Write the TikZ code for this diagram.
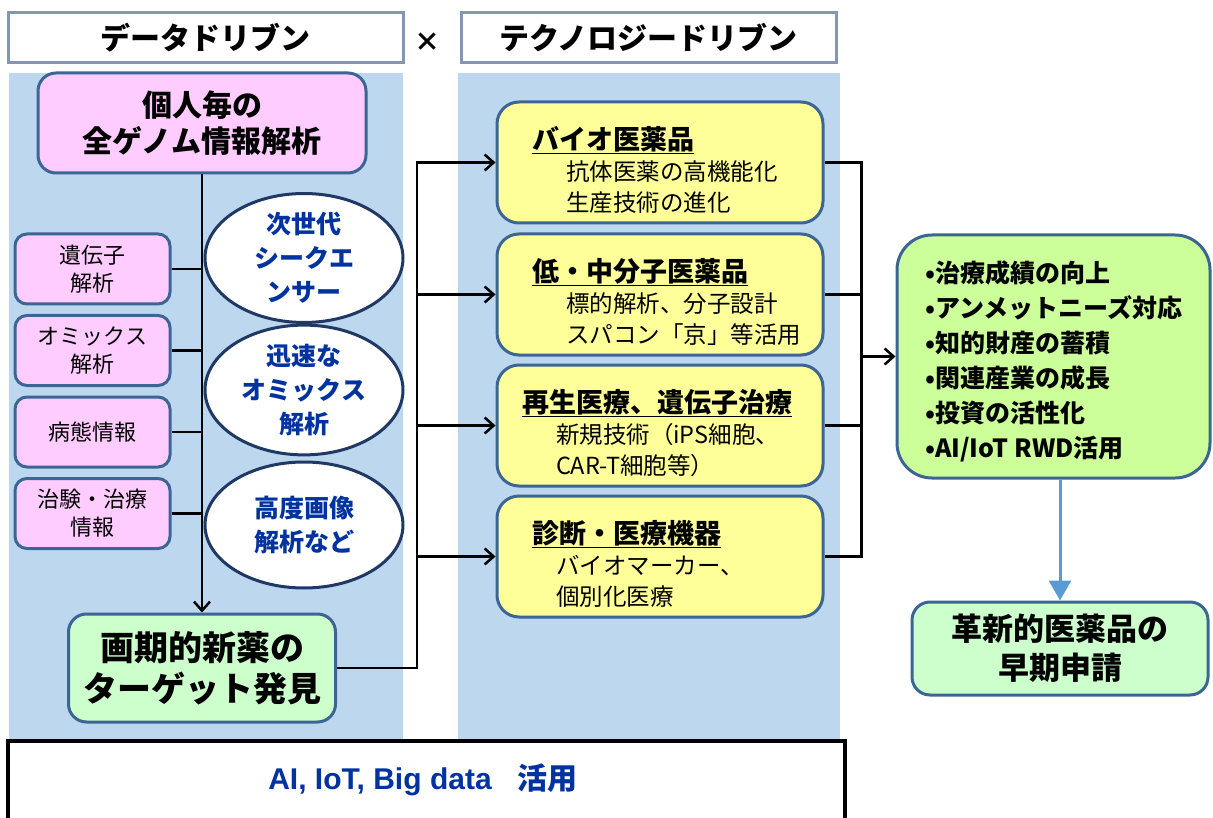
\documentclass[tikz,border=0pt]{standalone}
\usepackage{fontspec}
\setmainfont{Noto Sans CJK JP}
\newfontfamily\latfont{Liberation Sans}
\usepackage{xcolor}
\usetikzlibrary{arrows.meta, positioning, shapes.geometric}

\definecolor{panelblue}{HTML}{BDD7EE}
\definecolor{hdrline}{HTML}{8497B0}
\definecolor{boxline}{HTML}{3B6594}
\definecolor{pinkfill}{HTML}{FFCCFF}
\definecolor{yelfill}{HTML}{FFFF99}
\definecolor{grnfill}{HTML}{CCFFCC}
\definecolor{limefill}{HTML}{CCFF99}
\definecolor{navy}{HTML}{1F3864}
\definecolor{ovaltext}{HTML}{0033A0}
\definecolor{arrowblue}{HTML}{5B9BD5}

\newcommand\fsz[2]{\fontsize{#1}{#2}\selectfont}
% title line of a yellow box (underlined, pushed a bit down)
\newcommand\ytitle[2]{\rule{0pt}{38pt}\hspace*{#1}{\fsz{27}{31}\bfseries\underline{#2}}}

\begin{document}
\begin{tikzpicture} [x=1pt, y=-1pt, on grid,
	hdr/.style = {draw=hdrline, fill=white, line width=3pt, minimum height=50pt, inner sep=0pt, font=\fsz{30}{30}\bfseries},
	rbox/.style = {draw=boxline, line width=3pt, rounded corners=18pt, align=center, inner sep=0pt},
	smallbox/.style = {rbox, fill=pinkfill, rounded corners=12pt, minimum width=155pt, minimum height=70pt, font=\fsz{22}{28}},
	ellbox/.style = {ellipse, draw=navy, line width=3pt, fill=white, minimum width=198pt, minimum height=126pt, inner sep=0pt,
		align=center, text=ovaltext, font=\fsz{25}{34}\bfseries},
	ybox/.style = {rbox, fill=yelfill, rounded corners=22pt, text width=326pt, align=left, minimum height=121pt, font=\fsz{23.5}{31}},
	wire/.style = {line width=2.5pt, black},
	arr/.style = {-{Straight Barb[length=9pt, width=16pt, line width=2.5pt]}}]
	% Bounding box and background panels
	\useasboundingbox (0,0) rectangle (1213,818);
	\fill [panelblue] (9,73) rectangle (403,740);
	\fill [panelblue] (458,73) rectangle (840,740);
	% Headers
	\node (dd) [hdr, minimum width=395pt] at (205.5,38) {データドリブン};
	\node (cross) at (427,42) {\fsz{26}{26}\bfseries ×};
	\node (td) [hdr, minimum width=375pt] at (648.5,38) {テクノロジードリブン};
	% Data driven side
	\node (gen) [rbox, fill=pinkfill, minimum width=328pt, minimum height=100pt, font=\fsz{30}{36}\bfseries] at (202,123)
		{個人毎の\\全ゲノム情報解析};
	\node (an1) [smallbox] at (92.5,269) {遺伝子\\解析};
	\node (an2) [smallbox, below = 81.5pt of an1] {オミックス\\解析};
	\node (an3) [smallbox, below = 81.5pt of an2] {病態情報};
	\node (an4) [smallbox, below = 81.5pt of an3] {治験・治療\\情報};
	\node (seq) [ellbox] at (304,258) {次世代\\シークエ\\ンサー};
	\node (omx) [ellbox, below = 132pt of seq] {迅速な\\オミックス\\解析};
	\node (img) [ellbox, below = 135pt of omx] {高度画像\\解析など};
	\node (tgt) [rbox, fill=grnfill, minimum width=267pt, minimum height=108pt, font=\fsz{34}{41}\bfseries] at (202,668)
		{画期的新薬の\\ターゲット発見};
	% Technology driven side
	\node (bio) [ybox] at (660,162.5) {\ytitle{35pt}{バイオ医薬品}\\
		\hspace*{69pt}抗体医薬の高機能化\\\hspace*{69pt}生産技術の進化};
	\node (sml) [ybox, below = 132pt of bio] {\ytitle{35pt}{低・中分子医薬品}\\
		\hspace*{69pt}標的解析、分子設計\\\hspace*{69pt}スパコン「京」等活用};
	\node (rgn) [ybox, below = 131pt of sml] {\ytitle{25pt}{再生医療、遺伝子治療}\\
		\hspace*{59pt}新規技術（iPS細胞、\\\hspace*{59pt}CAR-T細胞等）};
	\node (dia) [ybox, below = 131pt of rgn] {\ytitle{35pt}{診断・医療機器}\\
		\hspace*{59pt}バイオマーカー、\\\hspace*{59pt}個別化医療};
	% Outcomes
	\node (res) [rbox, fill=limefill, rounded corners=35pt, minimum width=313pt, minimum height=243pt, align=left,
		font=\fsz{25}{35}\bfseries] at (1053.5,356.5)
		{\rule{0pt}{32pt}•治療成績の向上\\•アンメットニーズ対応\\•知的財産の蓄積\\•関連産業の成長\\•投資の活性化\\•AI/IoT RWD活用};
	\node (fin) [rbox, fill=grnfill, minimum width=296pt, minimum height=93pt, font=\fsz{31}{39}\bfseries] at (1060,648.5)
		{革新的医薬品の\\早期申請};
	% Bottom band
	\draw [line width=3.5pt, fill=white] (8,741) rectangle (845,830);
	\node (ai) at (423,780) {\bfseries\color{ovaltext}{\latfont\fsz{30}{30}AI, IoT, Big data}\hspace{26pt}{\fsz{30}{30}活用}};
	% Connectors
	\draw [wire, arr] (gen.south) -- (tgt.north);
	\foreach \n in {an1,an2,an3,an4}
		\draw [wire] (\n.east) -- (\n.east -| gen.south);
	\draw [wire, arr] (tgt.east) -- ++(80,0) coordinate (lbus) |- (bio.west);
	\foreach \n in {sml,rgn,dia}
		\draw [wire, arr] (\n.west -| lbus) -- (\n.west);
	\draw [wire] (bio.east) -- ++(37,0) coordinate (rbus) |- (dia.east);
	\foreach \n in {sml,rgn}
		\draw [wire] (\n.east) -- (\n.east -| rbus);
	\draw [wire, arr] (res.west -| rbus) -- (res.west);
	\draw [line width=3pt, arrowblue, -{Triangle[length=20pt, width=22pt]}] (res.south -| fin.north) -- (fin.north);
\end{tikzpicture}
\end{document}
